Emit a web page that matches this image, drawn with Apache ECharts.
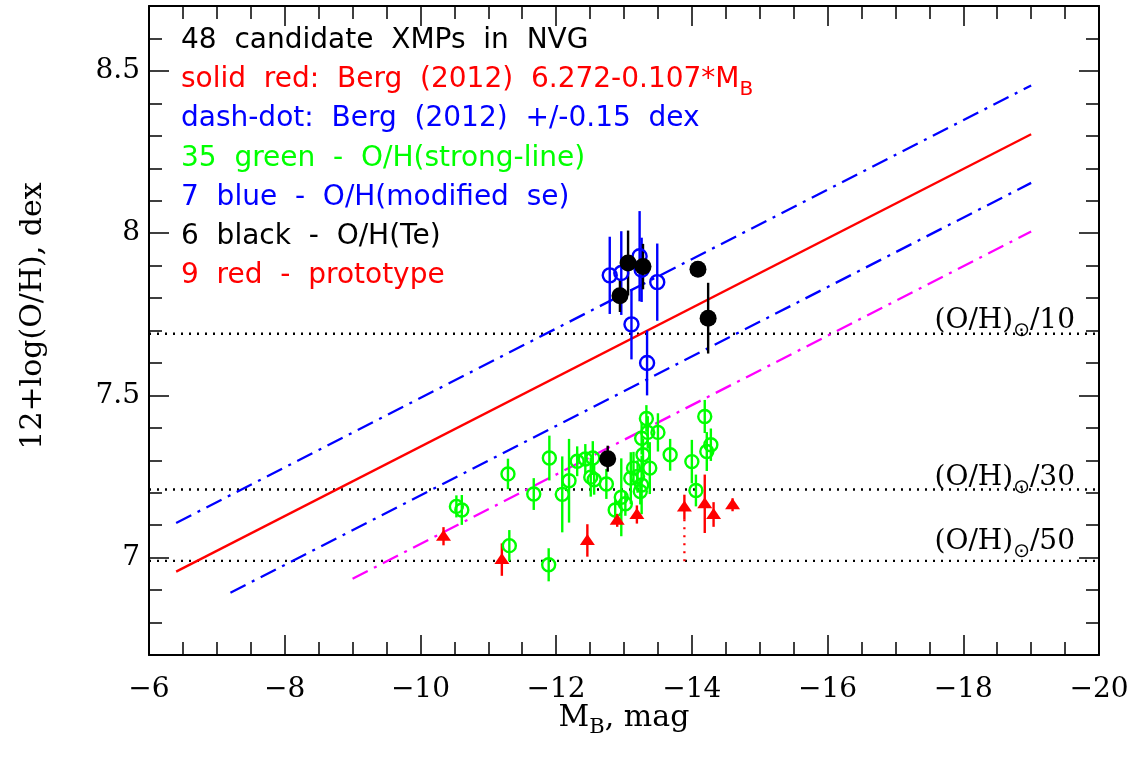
<!DOCTYPE html>
<html>
<head>
<meta charset="utf-8">
<title>XMP candidates: O/H vs M_B</title>
<style>
  html, body { margin: 0; padding: 0; background: #ffffff; }
  #chart { width: 1135px; height: 758px; }
</style>
<script src="https://cdn.jsdelivr.net/npm/echarts@6.0.0/dist/echarts.min.js"></script>
</head>
<body>
<div id="chart"></div>
<script>
// [M_B, 12+log(O/H), error half-length]
const greenPoints = [
    [-10.53, 7.158, 0.034], [-10.61, 7.147, 0.046], [-11.29, 7.258, 0.047],
    [-11.67, 7.196, 0.049], [-11.31, 7.037, 0.048], [-11.90, 7.307, 0.069],
    [-11.89, 6.978, 0.051], [-12.09, 7.195, 0.117], [-12.19, 7.237, 0.129],
    [-12.31, 7.297, 0.046], [-12.43, 7.304, 0.046], [-12.54, 7.307, 0.052],
    [-12.51, 7.248, 0.060], [-12.56, 7.240, 0.046], [-12.74, 7.227, 0.046],
    [-12.87, 7.147, 0.030], [-12.96, 7.186, 0.120], [-13.02, 7.166, 0.037],
    [-13.10, 7.245, 0.080], [-13.14, 7.276, 0.050], [-13.20, 7.250, 0.050],
    [-13.26, 7.224, 0.090], [-13.24, 7.204, 0.040], [-13.28, 7.317, 0.050],
    [-13.38, 7.276, 0.080], [-13.26, 7.368, 0.050], [-13.35, 7.386, 0.050],
    [-13.33, 7.429, 0.041], [-13.50, 7.386, 0.059], [-13.68, 7.317, 0.049],
    [-14.00, 7.296, 0.067], [-14.06, 7.207, 0.049], [-14.19, 7.435, 0.051],
    [-14.22, 7.327, 0.060], [-14.28, 7.348, 0.050]
];
const bluePoints = [
    [-12.79, 7.870, 0.119], [-12.96, 7.877, 0.129], [-13.23, 7.929, 0.139],
    [-13.49, 7.849, 0.119], [-13.11, 7.719, 0.108], [-13.34, 7.600, 0.100],
    [-13.26, 7.887, 0.099]
];
const blackPoints = [
    [-12.94, 7.807, 0.050], [-13.06, 7.908, 0.100], [-13.28, 7.897, 0.070],
    [-14.09, 7.889, 0.000], [-14.24, 7.738, 0.109], [-12.76, 7.305, 0.040]
];
// prototypes: [M_B, 12+log(O/H), stem half-length]
const redPoints = [
    [-10.34, 7.066, 0.028], [-11.20, 6.994, 0.050], [-12.46, 7.053, 0.050],
    [-12.90, 7.115, 0.020], [-13.19, 7.133, 0.028], [-13.89, 7.156, 0.038],
    [-14.19, 7.166, 0.090], [-14.32, 7.133, 0.038], [-14.60, 7.163, 0.020]
];
const redDrop = [[-13.89, 7.118], [-13.89, 6.979]];

// Berg (2012) relation and offsets, end points
const bergSolid = [[-6.4, 6.957], [-19.0, 8.305]];
const bergUpper = [[-6.4, 7.107], [-19.0, 8.455]];
const bergLower = [[-7.2, 6.892], [-19.0, 8.155]];
const magentaLine = [[-9.0, 6.935], [-19.0, 8.005]];

// solar O/H fractions
const solarLevels = [7.69, 7.21, 6.99];
const solarDivisors = ['10', '30', '50'];

const yMajorTicks = [7, 7.5, 8, 8.5];
const yMinorTicks = [6.8, 6.9, 7.1, 7.2, 7.3, 7.4, 7.6, 7.7, 7.8, 7.9, 8.1, 8.2, 8.3, 8.4, 8.6];

const noteTexts = [
    '48  candidate  XMPs  in  NVG',
    'solid  red:  Berg  (2012)  6.272-0.107*M',
    'dash-dot:  Berg  (2012)  +/-0.15  dex',
    '35  green  -  O/H(strong-line)',
    '7  blue  -  O/H(modified  se)',
    '6  black  -  O/H(Te)',
    '9  red  -  prototype'
];
const noteColors = ['#000000', '#ff0000', '#0000ff', '#00ff00', '#0000ff', '#000000', '#ff0000'];

const AXIS_FONT = 'DejaVu Serif';
const NOTE_FONT = 'DejaVu Sans';

function tickText(value) {
    return value < 0 ? '\u2212' + Math.abs(value) : String(value);
}

function errorBars(points, color) {
    return {
        type: 'custom',
        data: points,
        encode: { x: 0, y: 1 },
        silent: true,
        z: 3,
        renderItem: function (params, api) {
            const x = api.value(0), y = api.value(1), e = api.value(2);
            const lo = api.coord([x, y - e]);
            const hi = api.coord([x, y + e]);
            return {
                type: 'line',
                shape: { x1: lo[0], y1: lo[1], x2: hi[0], y2: hi[1] },
                style: { stroke: color, lineWidth: 2.4 }
            };
        }
    };
}

function lineSeries(data, color, type, z) {
    return {
        type: 'line',
        data: data,
        showSymbol: false,
        symbol: 'none',
        silent: true,
        z: z,
        lineStyle: { color: color, width: 2.3, type: type, opacity: 1 }
    };
}

const series = [];
solarLevels.forEach(v => {
    series.push(lineSeries([[-6, v], [-20, v]], '#000000', [2, 6], 1));
});
series.push(lineSeries(bergSolid, '#ff0000', 'solid', 2));
series.push(lineSeries(bergUpper, '#0000ff', [17, 7, 3, 7], 2));
series.push(lineSeries(bergLower, '#0000ff', [17, 7, 3, 7], 2));
series.push(lineSeries(magentaLine, '#ff00ff', [17, 7, 3, 7], 2));
series.push(lineSeries(redDrop, '#ff0000', [2, 6], 2));

series.push(errorBars(greenPoints, '#00ff00'));
series.push(errorBars(bluePoints, '#0000ff'));
series.push(errorBars(blackPoints, '#000000'));
series.push(errorBars(redPoints, '#ff0000'));

series.push({
    type: 'scatter', data: greenPoints, z: 4, silent: true,
    symbol: 'circle', symbolSize: 13,
    itemStyle: { color: 'rgba(0,0,0,0)', borderColor: '#00ff00', borderWidth: 2.4, opacity: 1 }
});
series.push({
    type: 'scatter', data: bluePoints, z: 4, silent: true,
    symbol: 'circle', symbolSize: 14,
    itemStyle: { color: 'rgba(0,0,0,0)', borderColor: '#0000ff', borderWidth: 2.4, opacity: 1 }
});
series.push({
    type: 'scatter', data: blackPoints, z: 5, silent: true,
    symbol: 'circle', symbolSize: 17,
    itemStyle: { color: '#000000', opacity: 1 }
});
series.push({
    type: 'scatter', data: redPoints, z: 5, silent: true,
    symbol: 'triangle', symbolSize: [15, 11], symbolOffset: [0, -1],
    itemStyle: { color: '#ff0000', opacity: 1 }
});

function xAxisFrame(position, showLabel) {
    return {
        type: 'value', min: -20, max: -6, inverse: true, interval: 2,
        position: position,
        axisLine: { show: true, onZero: false, lineStyle: { color: '#000', width: 2 } },
        axisTick: { show: true, inside: true, length: 20, lineStyle: { color: '#000', width: 1.5 } },
        minorTick: { show: true, splitNumber: 4, length: 13, lineStyle: { color: '#000', width: 1.5 } },
        axisLabel: {
            show: showLabel, margin: 21, color: '#000',
            fontFamily: AXIS_FONT, fontSize: 28, formatter: tickText
        },
        splitLine: { show: false },
        minorSplitLine: { show: false }
    };
}

function yAxisFrame(position, ticks, len, showLine, showLabel) {
    return {
        type: 'value', min: 6.7, max: 8.7,
        position: position,
        axisLine: { show: showLine, onZero: false, lineStyle: { color: '#000', width: 2 } },
        axisTick: { show: true, inside: true, length: len, customValues: ticks,
                    lineStyle: { color: '#000', width: 1.5 } },
        axisLabel: {
            show: showLabel, customValues: ticks, margin: 9, color: '#000',
            fontFamily: AXIS_FONT, fontSize: 28, formatter: tickText
        },
        splitLine: { show: false }
    };
}

const graphic = [];
noteTexts.forEach((txt, i) => {
    const y = 41 + i * 39.1;
    if (i === 1) {
        graphic.push({
            type: 'text', x: 181, y: y, silent: true,
            style: {
                text: '{t|' + txt + '}{s|B}',
                textVerticalAlign: 'middle',
                rich: {
                    t: { fontFamily: NOTE_FONT, fontSize: 28, lineHeight: 40, fill: noteColors[i], color: noteColors[i] },
                    s: { fontFamily: NOTE_FONT, fontSize: 20, lineHeight: 24, verticalAlign: 'bottom',
                         fill: noteColors[i], color: noteColors[i] }
                }
            }
        });
    } else {
        graphic.push({
            type: 'text', x: 181, y: y, silent: true,
            style: {
                text: txt, fill: noteColors[i],
                font: '28px "' + NOTE_FONT + '"',
                textVerticalAlign: 'middle'
            }
        });
    }
});

const solarLabelY = [321, 478, 542];
solarDivisors.forEach((d, i) => {
    graphic.push({
        type: 'text', x: 1075, y: solarLabelY[i], silent: true,
        style: {
            text: '{a|(O/H)}{b|\u2299}{a|/' + d + '}',
            textAlign: 'right', textVerticalAlign: 'middle',
            rich: {
                a: { fontFamily: AXIS_FONT, fontSize: 28, lineHeight: 40, color: '#000' },
                b: { fontFamily: NOTE_FONT, fontSize: 20, lineHeight: 22, verticalAlign: 'bottom', color: '#000' }
            }
        }
    });
});

graphic.push({
    type: 'text', x: 624, y: 718, silent: true,
    style: {
        text: '{a|M}{b|B}{a|, mag}',
        textAlign: 'center', textVerticalAlign: 'middle',
        rich: {
            a: { fontFamily: AXIS_FONT, fontSize: 30, lineHeight: 40, color: '#000' },
            b: { fontFamily: AXIS_FONT, fontSize: 21, lineHeight: 24, verticalAlign: 'bottom', color: '#000' }
        }
    }
});
graphic.push({
    type: 'text', x: 33, y: 316, rotation: Math.PI / 2, silent: true,
    style: {
        text: '12+log(O/H), dex', fill: '#000',
        font: '30px "' + AXIS_FONT + '"',
        textAlign: 'center', textVerticalAlign: 'middle'
    }
});

const chart = echarts.init(document.getElementById('chart'), null, { renderer: 'canvas' });
chart.setOption({
    animation: false,
    backgroundColor: '#ffffff',
    grid: { left: 149, top: 6, width: 950, height: 649 },
    xAxis: [xAxisFrame('bottom', true), xAxisFrame('top', false)],
    yAxis: [
        yAxisFrame('left', yMajorTicks, 20, true, true),
        yAxisFrame('left', yMinorTicks, 13, false, false),
        yAxisFrame('right', yMajorTicks, 20, true, false),
        yAxisFrame('right', yMinorTicks, 13, false, false)
    ],
    series: series,
    graphic: graphic
});
</script>
</body>
</html>
